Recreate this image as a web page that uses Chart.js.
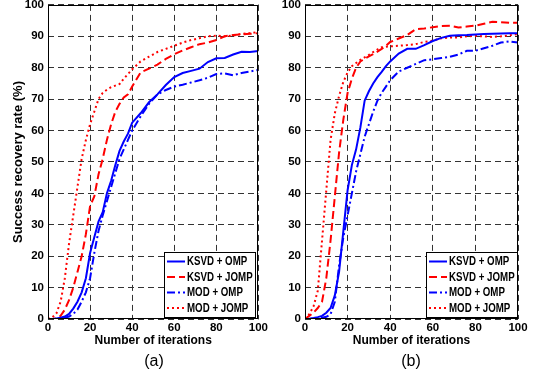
<!DOCTYPE html>
<html>
<head>
<meta charset="utf-8">
<script src="https://cdn.jsdelivr.net/npm/chart.js@4.4.1/dist/chart.umd.min.js"></script>
<style>
body { margin: 0; background: #fff; width: 540px; height: 376px; overflow: hidden; position: relative; font-family: 'Liberation Sans', Arial, sans-serif; }
canvas { position: absolute; }
.cap { position: absolute; top: 352px; width: 60px; font-size: 16px; line-height: 18px; text-align: center; }
</style>
</head>
<body>
<canvas id="chartA" style="left:0;top:-6px" width="270" height="382"></canvas>
<canvas id="chartB" style="left:270px;top:-6px" width="270" height="382"></canvas>
<div class="cap" style="left:124px">(a)</div>
<div class="cap" style="left:381px">(b)</div>
<script>
const iterations = [0, 2, 4, 6, 8, 10, 12, 14, 16, 18, 20, 22, 24, 26, 28, 30, 32, 34, 36, 38, 40,
    44, 48, 52, 56, 60, 64, 68, 72, 76, 80, 84, 88, 92, 96, 100];

// panel (a)
const ksvdOmpA = [0, 0, 0.2, 0.4, 0.8, 1.6, 3.3, 5.5, 8.5, 13, 21, 26, 31, 34, 40, 44, 49, 53.5, 56.5, 59, 62.5,
    65.5, 69, 71.5, 74.5, 77, 78.3, 79, 79.7, 81.8, 83, 83.1, 84.2, 85.1, 85, 85.3];
const ksvdJompA = [0, 0, 0.2, 1, 3, 6, 10, 15, 20, 27, 36, 39, 46, 51, 57, 62, 66, 68.5, 70.5, 71.5, 74,
    78.5, 79.7, 81, 82.8, 84.3, 85.5, 86.5, 87.5, 88, 88.8, 90, 90.4, 90.6, 90.8, 91];
const modOmpA = [0, 0, 0, 0.2, 0.4, 0.8, 1.6, 3, 5.5, 8.5, 13, 21, 28, 33, 37.5, 42, 46.5, 51, 54, 57, 60,
    64.5, 68.5, 71.5, 72.9, 74, 74.6, 75.3, 76, 76.8, 78, 78.2, 77.6, 78.3, 78.8, 79.3];
const modJompA = [0, 0.5, 1.8, 5.5, 13, 24, 33, 42, 51, 57, 62, 66, 70, 72, 73, 73.8, 74.3, 74.8, 76.5, 78, 79.5,
    82, 83.5, 85, 86, 87, 88, 88.8, 89.4, 90, 90.2, 90, 90.2, 90.8, 91, 91.4];

// panel (b)
const ksvdOmpB = [0, 0.1, 0.3, 0.6, 1, 2, 3.5, 7.5, 15, 28, 41, 49, 54, 61, 69.5, 72.5, 75, 77, 78.7, 80.5, 82,
    84.5, 86, 86, 87.2, 88.5, 89.5, 90.2, 90.3, 90.4, 90.6, 90.7, 90.8, 90.9, 91, 91];
const ksvdJompB = [0, 1, 2, 3.5, 5.5, 13, 25, 39, 53, 63.5, 72, 76.5, 80, 82, 82.8, 83.6, 84.3, 85.1, 86, 87, 88.2,
    89.3, 90.4, 92.3, 92.5, 92.9, 93.3, 93.4, 92.8, 93.1, 93.4, 94, 94.6, 94.5, 94.3, 94.3];
const modOmpB = [0, 0, 0.1, 0.2, 0.4, 0.7, 1.5, 5.5, 17, 26, 33, 40, 47, 52.5, 58, 62, 66, 69.5, 72, 74, 76,
    78.8, 80, 81.2, 82.4, 82.7, 83.1, 83.5, 84.2, 85.4, 85.4, 86.2, 87, 88, 88.4, 88];
const modJompB = [0, 1.5, 4, 9, 25, 41, 57, 65.5, 71, 75.5, 78.5, 80.5, 81.5, 82.5, 83.3, 84.1, 85, 85.8, 86.5, 86.7, 86.8,
    87, 87.2, 87.5, 88.2, 88.6, 89.4, 89.6, 89.6, 90, 90.1, 90, 89.8, 90, 90.3, 90.7];

const seriesNames = ['KSVD + OMP', 'KSVD + JOMP', 'MOD + OMP', 'MOD + JOMP'];
const xTicks = [0, 20, 40, 60, 80, 100];

Chart.defaults.font.family = "'Liberation Sans', Arial, sans-serif";
Chart.defaults.color = '#000';

const styles = [
    { borderColor: '#0000ff', borderDash: [] },
    { borderColor: '#ff0000', borderDash: [8, 4] },
    { borderColor: '#0000ff', borderDash: [8, 3, 2, 3] },
    { borderColor: '#ff0000', borderDash: [2, 3] }
];

// box round the plot plus the matlab style legend in the lower right corner
const frameAndLegend = {
    id: 'frameAndLegend',
    afterDraw(chart, args, opts) {
        const ctx = chart.ctx;
        const a = chart.chartArea;
        ctx.save();
        const w = opts.width, h = 65;
        const x0 = Math.round(a.right - opts.gap - w), y0 = Math.round(a.bottom - 2 - h);
        ctx.fillStyle = '#fff';
        ctx.fillRect(x0, y0, w, h);
        ctx.strokeStyle = '#000';
        ctx.lineWidth = 1;
        ctx.strokeRect(x0 + 0.5, y0 + 0.5, w, h);
        chart.data.datasets.forEach((ds, i) => {
            const y = y0 + 9.5 + i * 15.5;
            ctx.strokeStyle = ds.borderColor;
            ctx.lineWidth = ds.borderWidth;
            ctx.setLineDash(ds.borderDash);
            ctx.beginPath();
            ctx.moveTo(x0 + 3, y);
            ctx.lineTo(x0 + 21, y);
            ctx.stroke();
            ctx.setLineDash([]);
            ctx.fillStyle = '#000';
            ctx.font = "bold 12px 'Liberation Sans', Arial, sans-serif";
            ctx.textBaseline = 'middle';
            // matlab's legend font is narrow, squeeze it sideways
            ctx.save();
            ctx.translate(x0 + 23, y + 0.5);
            ctx.scale(0.81, 1);
            ctx.fillText(ds.label, 0, 0);
            ctx.restore();
        });
        ctx.strokeStyle = '#000';
        ctx.lineWidth = 1;
        const l = Math.round(a.left), t = Math.round(a.top), r = Math.round(a.right), b = Math.round(a.bottom);
        ctx.strokeRect(l + 0.5, t + 0.5, r - l - 1, b - t - 1);
        ctx.restore();
    }
};

function makeChart(id, series, yWidth, padRight, yTitle, legendGap) {
    const ctx = document.getElementById(id).getContext('2d');
    return new Chart(ctx, {
        type: 'line',
        data: {
            datasets: series.map((vals, i) => ({
                label: seriesNames[i],
                data: iterations.map((x, j) => ({ x: x, y: vals[j] })),
                borderColor: styles[i].borderColor,
                borderDash: styles[i].borderDash,
                borderWidth: 2,
                pointRadius: 0,
                fill: false,
                tension: 0
            }))
        },
        options: {
            responsive: false,
            animation: false,
            layout: { padding: { top: 0, right: padRight, bottom: 0, left: 0 } },
            plugins: {
                legend: { display: false },
                tooltip: { enabled: false },
                frameAndLegend: { width: 91, gap: legendGap }
            },
            scales: {
                x: {
                    type: 'linear', min: 0, max: 100,
                    afterBuildTicks: s => { s.ticks = xTicks.map(v => ({ value: v })); },
                    afterFit: s => { s.height = 57; },
                    grid: { color: '#333', drawTicks: false },
                    border: { display: false, dash: [6, 4] },
                    ticks: { padding: 2, font: { size: 11.5, weight: 'bold' }, maxRotation: 0 },
                    title: { display: true, text: 'Number of iterations', font: { size: 12, weight: 'bold' },
                        padding: { top: 0, bottom: 28 } }
                },
                y: {
                    min: 0, max: 100,
                    afterFit: s => { s.width = yWidth; },
                    grid: { color: '#333', drawTicks: false },
                    border: { display: false, dash: [6, 4] },
                    ticks: { stepSize: 10, padding: 4, font: { size: 11.5, weight: 'bold' } },
                    title: { display: !!yTitle, text: yTitle, font: { size: 13, weight: 'bold' },
                        padding: { top: 11, bottom: 0 } }
                }
            }
        },
        plugins: [frameAndLegend]
    });
}

makeChart('chartA', [ksvdOmpA, ksvdJompA, modOmpA, modJompA], 48, 10, 'Success recovery rate (%)', 3);
makeChart('chartB', [ksvdOmpB, ksvdJompB, modOmpB, modJompB], 35, 22, '', 1);
</script>
</body>
</html>
